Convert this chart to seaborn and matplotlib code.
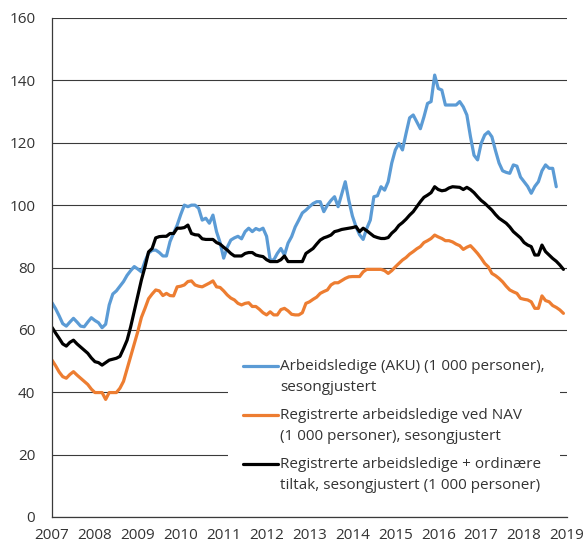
import numpy as np
import pandas as pd
import matplotlib
matplotlib.use("Agg")
import matplotlib.pyplot as plt
import seaborn as sns
from matplotlib.legend_handler import HandlerLine2D

# --- Data: monthly values from Jan 2007, in 1 000 persons ---
START_YEAR = 2007

aku = [
    68.7, 66.8, 64.5, 62.0, 61.2, 62.5, 63.7, 62.5, 61.2, 61.0, 62.5, 63.9,
    63.0, 62.3, 60.7, 61.8, 68.0, 71.5, 72.5, 74.0, 75.5, 77.5, 79.0, 80.3,
    79.5, 78.6, 82.0, 84.6, 85.5, 85.6, 84.8, 83.7, 83.7, 88.3, 91.0, 93.6,
    97.0, 100.0, 99.5, 100.0, 100.0, 99.0, 95.2, 95.8, 94.2, 96.8, 91.5, 88.0,
    83.0, 86.5, 88.8, 89.5, 90.0, 89.2, 91.5, 92.6, 91.5, 92.5, 92.0, 92.6,
    90.0, 82.4, 82.4, 84.5, 86.1, 84.0, 87.8, 89.9, 93.0, 95.2, 97.5, 98.4,
    99.5, 100.5, 101.1, 101.1, 97.9, 100.0, 101.5, 102.7, 99.5, 103.5, 107.5, 101.5,
    96.5, 93.1, 90.5, 89.0, 92.5, 95.2, 102.7, 103.0, 105.9, 104.8, 107.5, 113.5,
    117.7, 119.8, 117.7, 123.0, 128.0, 128.9, 126.7, 124.5, 128.3, 132.6, 133.2, 141.7,
    137.4, 136.9, 132.1, 132.1, 132.1, 132.1, 133.2, 131.5, 128.9, 122.0, 116.0, 114.5,
    119.8, 122.5, 123.5, 121.9, 117.5, 113.5, 111.0, 110.5, 110.2, 112.9, 112.5, 109.0,
    107.5, 106.0, 103.8, 106.0, 107.5, 111.0, 112.9, 111.8, 111.8, 105.9,
]

nav = [
    50.3, 48.5, 46.5, 45.0, 44.5, 45.7, 46.6, 45.5, 44.5, 43.5, 42.5, 41.0,
    39.9, 39.9, 39.9, 37.7, 39.9, 39.9, 39.9, 41.3, 43.5, 47.5, 51.5, 55.5,
    59.5, 64.0, 66.9, 70.0, 71.5, 72.8, 72.5, 71.0, 71.7, 71.0, 70.9, 73.8,
    74.0, 74.4, 75.5, 75.7, 74.4, 74.0, 73.8, 74.4, 75.0, 75.7, 73.8, 73.6,
    72.5, 71.2, 70.2, 69.6, 68.5, 68.0, 68.5, 68.7, 67.5, 67.5, 66.6, 65.5,
    64.8, 65.8, 64.8, 64.8, 66.5, 66.9, 66.1, 65.0, 64.8, 64.8, 65.5, 68.5,
    69.0, 69.8, 70.5, 71.7, 72.3, 72.8, 74.4, 75.1, 75.1, 75.8, 76.5, 77.0,
    77.1, 77.1, 77.1, 78.6, 79.4, 79.4, 79.4, 79.4, 79.4, 79.0, 78.1, 79.0,
    80.2, 81.3, 82.4, 83.2, 84.3, 85.1, 86.0, 86.7, 88.0, 88.6, 89.3, 90.4,
    89.8, 89.3, 88.6, 88.6, 88.2, 87.5, 87.0, 85.8, 86.5, 87.0, 85.8, 84.5,
    83.0, 81.3, 80.2, 78.1, 77.4, 76.5, 75.4, 74.0, 72.8, 72.2, 71.7, 70.1,
    69.8, 69.6, 69.0, 66.9, 66.9, 70.9, 69.4, 69.0, 67.8, 67.2, 66.4, 65.3,
]

tiltak = [
    60.8, 59.0, 57.3, 55.5, 54.8, 56.0, 56.7, 55.5, 54.5, 53.5, 52.5, 51.0,
    49.8, 49.5, 48.7, 49.5, 50.3, 50.6, 50.9, 51.5, 54.0, 56.7, 61.0, 66.0,
    71.0, 76.0, 80.2, 85.0, 86.1, 89.5, 89.9, 90.0, 90.0, 90.9, 90.9, 92.6,
    92.6, 92.8, 93.6, 90.9, 90.5, 90.4, 89.2, 89.0, 89.0, 89.0, 88.0, 87.5,
    86.5, 85.6, 84.5, 83.7, 83.7, 83.7, 84.5, 84.8, 84.8, 84.0, 83.7, 83.5,
    82.5, 81.9, 81.9, 81.9, 82.5, 83.7, 81.9, 81.9, 81.9, 81.9, 81.9, 84.5,
    85.3, 86.1, 87.5, 88.8, 89.5, 89.9, 90.4, 91.5, 91.8, 92.2, 92.4, 92.6,
    92.8, 93.1, 91.5, 92.6, 91.8, 90.9, 90.0, 89.6, 89.3, 89.3, 89.6, 91.0,
    92.0, 93.5, 94.4, 95.5, 96.8, 97.9, 99.5, 101.1, 102.5, 103.2, 104.0, 105.9,
    105.0, 104.6, 104.8, 105.5, 105.9, 105.8, 105.7, 105.0, 105.7, 105.0, 104.0, 102.7,
    101.5, 100.6, 99.5, 98.4, 97.0, 95.8, 95.0, 94.2, 93.0, 91.5, 90.5, 89.5,
    88.0, 87.2, 86.7, 84.0, 84.0, 87.2, 85.1, 84.0, 82.9, 82.0, 80.8, 79.4,
]

labels = [
    "Arbeidsledige (AKU) (1 000 personer),\nsesongjustert",
    "Registrerte arbeidsledige ved NAV\n(1 000 personer), sesongjustert",
    "Registrerte arbeidsledige + ordinære\ntiltak, sesongjustert (1 000 personer)",
]
colors = ["#5B9BD5", "#ED7D31", "#000000"]
year_ticks = list(range(2007, 2020))

LINESPACING = 1.55


def to_frame(values, name):
    x = START_YEAR + np.arange(len(values)) / 12
    return pd.DataFrame({"year": x, "value": values, "series": name})


df = pd.concat([to_frame(v, l) for v, l in zip([aku, nav, tiltak], labels)])


# legend handle aligned with the first text line (like the original)
class FirstLineHandler(HandlerLine2D):
    def create_artists(self, legend, orig_handle, xdescent, ydescent,
                       width, height, fontsize, trans):
        return super().create_artists(legend, orig_handle, xdescent,
                                      ydescent - 1.5 * fontsize, width, height,
                                      fontsize, trans)


sns.set_theme(style="white")
plt.rcParams["font.family"] = ["Open Sans", "DejaVu Sans"]

fig = plt.figure(figsize=(5.83, 5.44), dpi=100)
ax = fig.add_axes([52 / 583, 1 - 517 / 544, 515 / 583, 499 / 544])

sns.lineplot(data=df, x="year", y="value", hue="series", hue_order=labels,
             palette=dict(zip(labels, colors)), linewidth=2.3, ax=ax,
             legend=False)

ax.set_xlim(2007, 2019)
ax.set_ylim(0, 160)
ax.set_xticks(year_ticks)
ax.set_yticks(range(0, 161, 20))
ax.set_xlabel("")
ax.set_ylabel("")

ax.yaxis.grid(True, color="#3a3a3a", linewidth=0.8)
ax.set_axisbelow(True)
for s in ["top", "right"]:
    ax.spines[s].set_visible(False)
for s in ["left", "bottom"]:
    ax.spines[s].set_color("#3a3a3a")
    ax.spines[s].set_linewidth(0.9)

ax.tick_params(axis="y", length=0, pad=12, labelsize=11, labelcolor="#333333")
ax.tick_params(axis="x", direction="in", length=5, width=0.8, color="#3a3a3a",
               pad=8, labelsize=11, labelcolor="#333333")

handles = ax.get_lines()[:3]
leg = ax.legend(handles, labels, loc="upper left",
                bbox_to_anchor=((228 - 52) / 515, (517 - 344) / 499),
                borderaxespad=0, borderpad=1.0, frameon=True, fancybox=False,
                facecolor="white", edgecolor="none", framealpha=1,
                fontsize=11, handlelength=2.3, handletextpad=0.1,
                labelspacing=0.85, labelcolor="#333333",
                handler_map={h: FirstLineHandler() for h in handles})
for t in leg.get_texts():
    t.set_linespacing(LINESPACING)

fig.savefig("out.png", dpi=100)
